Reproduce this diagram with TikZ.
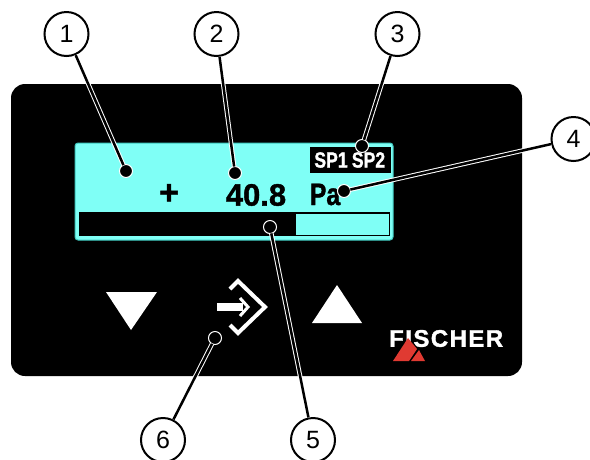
\documentclass[tikz,border=0pt]{standalone}
\usepackage{fontspec}
\setmainfont{Liberation Sans}
\newfontfamily\heavyfont[FakeBold=1.2]{Liberation Sans Bold}
\newfontfamily\narrowfont[FakeStretch=0.8,FakeBold=1.2]{Liberation Sans Bold}
\newfontfamily\logofont[LetterSpace=6,FakeBold=1.5]{Liberation Sans Bold}
\definecolor{lcdcyan}{HTML}{7FFFF6}
\definecolor{lcdedge}{HTML}{3FC8BE}
\definecolor{logored}{HTML}{E03A32}

\begin{document}
\begin{tikzpicture} [
    x=1pt, y=-1pt,
    numstyle/.style  = {draw, circle,
                        line width=2pt,
                        minimum size=44pt,
                        inner sep=0pt,
                        font=\fontsize{25}{25}\selectfont},
    dotstyle/.style  = {draw=white, circle,
                        fill=black,
                        line width=1pt,
                        minimum size=13pt,
                        inner sep=0pt,
                        outer sep=0pt},
    leader/.style    = {draw=white,
                        line width=1pt,
                        double=black,
                        double distance=2.5pt},
    readout/.style   = {inner sep=0pt,
                        font=\fontsize{31}{31}\selectfont\heavyfont},
    smalltxt/.style  = {inner sep=0pt,
                        text=white,
                        font=\fontsize{22}{22}\selectfont\narrowfont},
    keyicon/.style   = {draw=white,
                        line width=4pt,
                        miter limit=10}
]
\useasboundingbox (0,0) rectangle (590,459);
% housing and display
\fill[black, rounded corners=14pt] (11,84) rectangle (522,376);
\draw[lcdedge, fill=lcdcyan, line width=1pt, rounded corners=3pt] (75,143) rectangle (393,240);
\fill[black] (310,147) rectangle (391,173);
\fill[black] (79,212) rectangle (390,236);
\fill[lcdcyan] (296,213.5) rectangle (388.5,234.5);

\node (sp1) [smalltxt] at (331,160) {SP1};
\node (sp2) [smalltxt] at (368.5,160) {SP2};
\node (plus) [readout, font=\fontsize{34}{34}\selectfont\heavyfont] at (169,194) {+};
\node (value) [readout] at (256,195) {40.8};
\node (unit) [readout, font=\fontsize{31}{31}\selectfont\narrowfont] at (325,194.5) {Pa};

% keys
\fill[white] (106,292) -- (157,292) -- (131,330) -- cycle;
\fill[white] (312,323) -- (362,323) -- (337,285) -- cycle;
\draw[keyicon] (230,289) -- (238,281) -- (265,307) -- (238,333) -- (230,325);
\draw[keyicon, line width=3pt] (240,298) -- (248,307) -- (240,316);
\fill[white] (217,303) rectangle (243,311);

% logo
\node (logo) [inner sep=0pt, anchor=west, text=white,
              font=\fontsize{24}{24}\selectfont\logofont] at (389,338.5) {FISCHER};
\fill[logored] (393,361) -- (408,338) -- (417,349) -- (409,361) -- cycle;
\fill[logored] (411,361) -- (419,350) -- (425,361) -- cycle;

% callouts
\node (n1) [numstyle] at (66.5,34) {1};
\node (n2) [numstyle] at (216.5,34) {2};
\node (n3) [numstyle] at (397.5,34) {3};
\node (n4) [numstyle] at (573.5,139) {4};
\node (n5) [numstyle] at (313,440) {5};
\node (n6) [numstyle] at (163,440) {6};

\node (d1) [dotstyle] at (126,171) {};
\node (d2) [dotstyle] at (235,173) {};
\node (d3) [dotstyle] at (362,146) {};
\node (d4) [dotstyle] at (344,191) {};
\node (d5) [dotstyle] at (270,227) {};
\node (d6) [dotstyle] at (215,338) {};

\draw[leader] (n1) -- (d1);
\draw[leader] (n2) -- (d2);
\draw[leader] (n3) -- (d3);
\draw[leader] (n4) -- (d4);
\draw[leader] (n5) -- (d5);
\draw[leader] (n6) -- (d6);
\end{tikzpicture}
\end{document}
